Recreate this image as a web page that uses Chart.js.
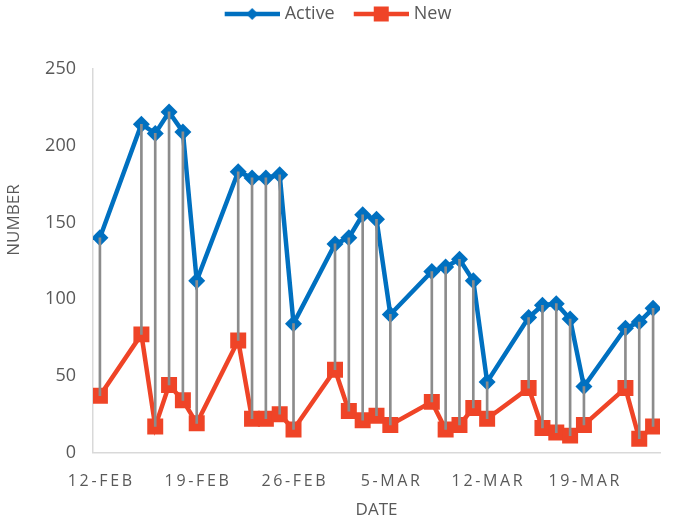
<!DOCTYPE html>
<html>
<head>
<meta charset="utf-8">
<script src="https://cdn.jsdelivr.net/npm/chart.js@4.4.1/dist/chart.umd.min.js"></script>
<style>
  html, body { margin: 0; padding: 0; background: #ffffff; }
  #wrap { width: 678px; height: 521px; position: relative; }
</style>
</head>
<body>
<div id="wrap"><canvas id="c" width="678" height="521"></canvas></div>
<script>
// ---- data ----
const dates = [
  '2021-02-12','2021-02-15','2021-02-16','2021-02-17','2021-02-18','2021-02-19',
  '2021-02-22','2021-02-23','2021-02-24','2021-02-25','2021-02-26',
  '2021-03-01','2021-03-02','2021-03-03','2021-03-04','2021-03-05',
  '2021-03-08','2021-03-09','2021-03-10','2021-03-11','2021-03-12',
  '2021-03-15','2021-03-16','2021-03-17','2021-03-18','2021-03-19',
  '2021-03-22','2021-03-23','2021-03-24'
];
const active = [
  140, 214, 208, 222, 209, 112,
  183, 179, 179, 181, 84,
  136, 140, 155, 152, 90,
  118, 121, 126, 112, 46,
  88, 96, 97, 87, 43,
  81, 85, 94
];
const newCases = [
  37, 77, 17, 44, 34, 19,
  73, 22, 22, 25, 15,
  54, 27, 21, 24, 18,
  33, 15, 18, 29, 22,
  42, 16, 13, 11, 18,
  42, 9, 17
];
const tickDates = ['2021-02-12','2021-02-19','2021-02-26','2021-03-05','2021-03-12','2021-03-19'];
const tickLabels = ['12-FEB','19-FEB','26-FEB','5-MAR','12-MAR','19-MAR'];
const seriesNames = ['Active', 'New'];
const xTitle = 'DATE';
const yTitle = 'NUMBER';
const yTicks = [0, 50, 100, 150, 200, 250];

// ---- helpers ----
const DAY = 86400000;
const t0 = Date.parse(dates[0]);
const dayOf = d => Math.round((Date.parse(d) - t0) / DAY);
const days = dates.map(dayOf);
const lastDay = days[days.length - 1];

const BLUE = '#0070C0';
const RED = '#EF4427';
const GREY_TXT = '#595959';
const FONT = "'Open Sans', 'Liberation Sans', sans-serif";

function legendIcon(color, shape) {
  const c = document.createElement('canvas');
  c.width = 75; c.height = 18;
  const g = c.getContext('2d');
  const x0 = 20, x1 = 75, cy = 9, mx = (x0 + x1) / 2;
  g.strokeStyle = color; g.lineWidth = 4.5; g.lineCap = 'butt';
  g.beginPath(); g.moveTo(x0, cy); g.lineTo(x1, cy); g.stroke();
  g.fillStyle = color;
  g.beginPath();
  if (shape === 'diamond') {
    const r = 6;
    g.moveTo(mx - r, cy); g.lineTo(mx, cy - r); g.lineTo(mx + r, cy); g.lineTo(mx, cy + r);
  } else {
    const s = 7.5;
    g.rect(mx - s, cy - s, 2 * s, 2 * s);
  }
  g.closePath(); g.fill();
  return c;
}
const icons = [legendIcon(BLUE, 'diamond'), legendIcon(RED, 'square')];

const spaced = s => s.split('').join('\u2009');

const legendSpacer = {
  id: 'legendSpacer',
  beforeLayout(chart) {
    const lg = chart.legend;
    if (lg && !lg._spaced) {
      const f = lg.fit;
      lg.fit = function () { f.call(this); this.height += 36; };
      lg._spaced = true;
    }
  }
};

const yTitlePlugin = {
  id: 'yTitlePlugin',
  afterDraw(chart) {
    const ctx = chart.ctx;
    ctx.save();
    ctx.translate(14, 220);
    ctx.rotate(-Math.PI / 2);
    ctx.font = "17px " + FONT;
    ctx.fillStyle = GREY_TXT;
    ctx.textAlign = 'center';
    ctx.textBaseline = 'middle';
    ctx.fillText(yTitle, 0, 0);
    ctx.restore();
  }
};

new Chart(document.getElementById('c'), {
  type: 'line',
  data: {
    datasets: [
      {
        type: 'bar',
        label: 'hl',
        data: days.map((d, i) => ({ x: d, y: [newCases[i], active[i]] })),
        backgroundColor: '#8C8C8C',
        borderWidth: 0,
        barThickness: 2,
        grouped: false,
        order: 0
      },
      {
        label: seriesNames[0],
        data: days.map((d, i) => ({ x: d, y: active[i] })),
        borderColor: BLUE,
        backgroundColor: BLUE,
        borderWidth: 4.5,
        tension: 0,
        pointStyle: 'rectRot',
        pointRadius: 8.5,
        pointBorderWidth: 0,
        pointBackgroundColor: BLUE,
        order: 1
      },
      {
        label: seriesNames[1],
        data: days.map((d, i) => ({ x: d, y: newCases[i] })),
        borderColor: RED,
        backgroundColor: RED,
        borderWidth: 4.5,
        tension: 0,
        pointStyle: 'rect',
        pointRadius: 11.3,
        pointBorderWidth: 0,
        pointBackgroundColor: RED,
        order: 2
      }
    ]
  },
  options: {
    responsive: false,
    animation: false,
    layout: { padding: { top: 2, right: 18, bottom: 0, left: 0 } },
    plugins: {
      tooltip: { enabled: false },
      legend: {
        position: 'top',
        align: 'center',
        labels: {
          usePointStyle: true,
          pointStyleWidth: 67,
          generateLabels(chart) {
            return seriesNames.map((name, i) => ({
              text: name,
              fillStyle: i ? RED : BLUE,
              strokeStyle: i ? RED : BLUE,
              pointStyle: icons[i],
              lineWidth: 0,
              fontColor: GREY_TXT,
              datasetIndex: i + 1,
              hidden: false
            }));
          },
          font: { size: 18, family: FONT },
          color: GREY_TXT,
          padding: 3
        }
      }
    },
    scales: {
      x: {
        type: 'linear',
        min: -0.5,
        max: lastDay + 0.5,
        offset: false,
        grid: { display: false, drawTicks: false },
        border: { display: true, color: '#D9D9D9', width: 1.5 },
        afterBuildTicks(scale) {
          scale.ticks = tickDates.map(d => ({ value: dayOf(d) }));
        },
        afterFit(scale) { scale.height = 68.5; },
        ticks: {
          autoSkip: false,
          maxRotation: 0,
          padding: 19,
          color: GREY_TXT,
          font: { size: 16, family: FONT },
          callback: (v, i) => spaced(tickLabels[i])
        },
        title: {
          display: true,
          text: xTitle,
          color: GREY_TXT,
          font: { size: 17, family: FONT },
          padding: { top: 0, bottom: 1 }
        }
      },
      y: {
        min: 0,
        max: 250,
        grid: { display: false, drawTicks: false },
        border: { display: true, color: '#D9D9D9', width: 1.5 },
        afterBuildTicks(scale) {
          scale.ticks = yTicks.map(v => ({ value: v }));
        },
        afterFit(scale) { scale.width = 93; },
        ticks: {
          padding: 17,
          color: GREY_TXT,
          font: { size: 18, family: FONT }
        }
      }
    }
  },
  plugins: [legendSpacer, yTitlePlugin]
});
</script>
</body>
</html>
